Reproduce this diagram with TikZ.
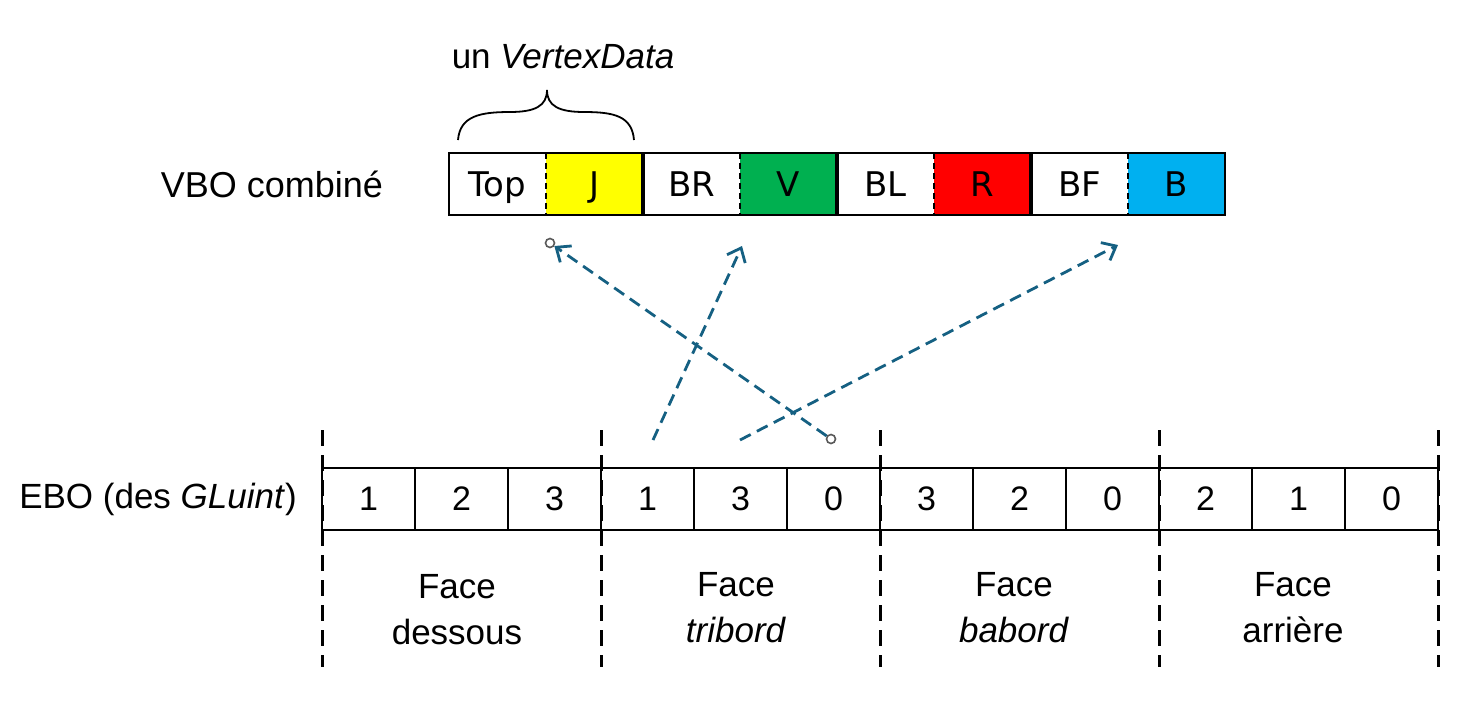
\documentclass[tikz,border=0pt]{standalone}
\usepackage{fontspec}
\setmainfont{Liberation Sans}
\newfontfamily\dejavu{DejaVu Sans}
\usetikzlibrary{arrows.meta}
\definecolor{arrowblue}{HTML}{156082}
\definecolor{cyel}{HTML}{FFFF00}
\definecolor{cgrn}{HTML}{00B050}
\definecolor{cred}{HTML}{FF0000}
\definecolor{cblu}{HTML}{00B0F0}
\definecolor{hgray}{HTML}{595959}
\begin{document}
\begin{tikzpicture}[x=1pt,y=-1pt,
 lbl/.style={font=\fontsize{35}{46}\selectfont, inner sep=0pt, align=center},
 vcell/.style={minimum width=97pt, minimum height=62pt, inner sep=0pt, text height=24pt, text depth=0pt, font=\dejavu\fontsize{34}{40}\selectfont},
 ecell/.style={draw, line width=1.5pt, minimum width=93pt, minimum height=62pt, inner sep=0pt, font=\fontsize{34}{40}\selectfont},
 facesep/.style={line width=3pt, dash pattern=on 16pt off 9pt},
 pairsep/.style={line width=1.6pt, dash pattern=on 6pt off 4pt},
 groupsep/.style={line width=4pt},
 link/.style={arrowblue, line width=2.8pt, dash pattern=on 12pt off 7pt},
 linktip/.style={-{Straight Barb[length=12pt,width=20pt,line width=2.8pt]}},
 handle/.style={draw=hgray, fill=white, line width=1.6pt, circle, minimum size=9pt, inner sep=0pt}
]
\useasboundingbox (0,0) rectangle (1481,705);

% ---------- VBO ----------
\node[lbl, font=\fontsize{36}{46}\selectfont] (vbolabel) at (272,184) {VBO combiné};
\foreach \i/\t/\c in {1/Top/white,2/J/cyel,3/BR/white,4/V/cgrn,5/BL/white,6/R/cred,7/BF/white,8/B/cblu}{
  \node[vcell, fill=\c] (v\i) at ({449+97*(\i-1)+48.5},184) {\t};
}
\foreach \a/\b in {1/2,3/4,5/6,7/8}{
  \draw[pairsep] (v\a.north east) -- (v\a.south east);
}
\foreach \a in {2,4,6}{
  \draw[groupsep] (v\a.north east) -- (v\a.south east);
}
\draw[line width=2.5pt] (v1.north west) rectangle (v8.south east);

% brace
\draw[line width=1.8pt] (458,140) .. controls (460,116) and (480,112) .. (510,112)
   .. controls (535,112) and (547,106) .. (547,90)
   .. controls (547,106) and (559,112) .. (584,112)
   .. controls (614,112) and (632,116) .. (634,140);
\node[lbl] (vdlabel) at (563,57) {un \textit{VertexData}};

% ---------- EBO ----------
\node[lbl] (ebolabel) at (158,499) {EBO (des \textit{GLuint})};
\foreach \i/\t in {1/1,2/2,3/3,4/1,5/3,6/0,7/3,8/2,9/0,10/2,11/1,12/0}{
  \node[ecell] (e\i) at ({322+93*(\i-1)+46.5},499) {\t};
}
\foreach \k in {0,1,2,3,4}{
  \coordinate (st\k) at ({322+279*\k},430);
  \coordinate (sb\k) at ({322+279*\k},667);
  \draw[facesep] (st\k) -- (sb\k);
}

\node[lbl] (f1) at (457,610) {Face\\dessous};
\node[lbl] (f2) at (736,608) {Face\\\textit{tribord}};
\node[lbl] (f3) at (1014,608) {Face\\\textit{babord}};
\node[lbl] (f4) at (1293,608) {Face\\arrière};

% ---------- links ----------
\node[handle] (h1) at (831,439) {};
\node[handle] (h2) at (550,243) {};
\draw[link, linktip] (h1) -- (h2);
\coordinate (a2s) at (653,440);
\coordinate (a2e) at (742,246);
\draw[link, linktip] (a2s) -- (a2e);
\coordinate (a3s) at (740,440);
\coordinate (a3e) at (1118,245);
\draw[link, linktip] (a3s) -- (a3e);
\end{tikzpicture}
\end{document}
